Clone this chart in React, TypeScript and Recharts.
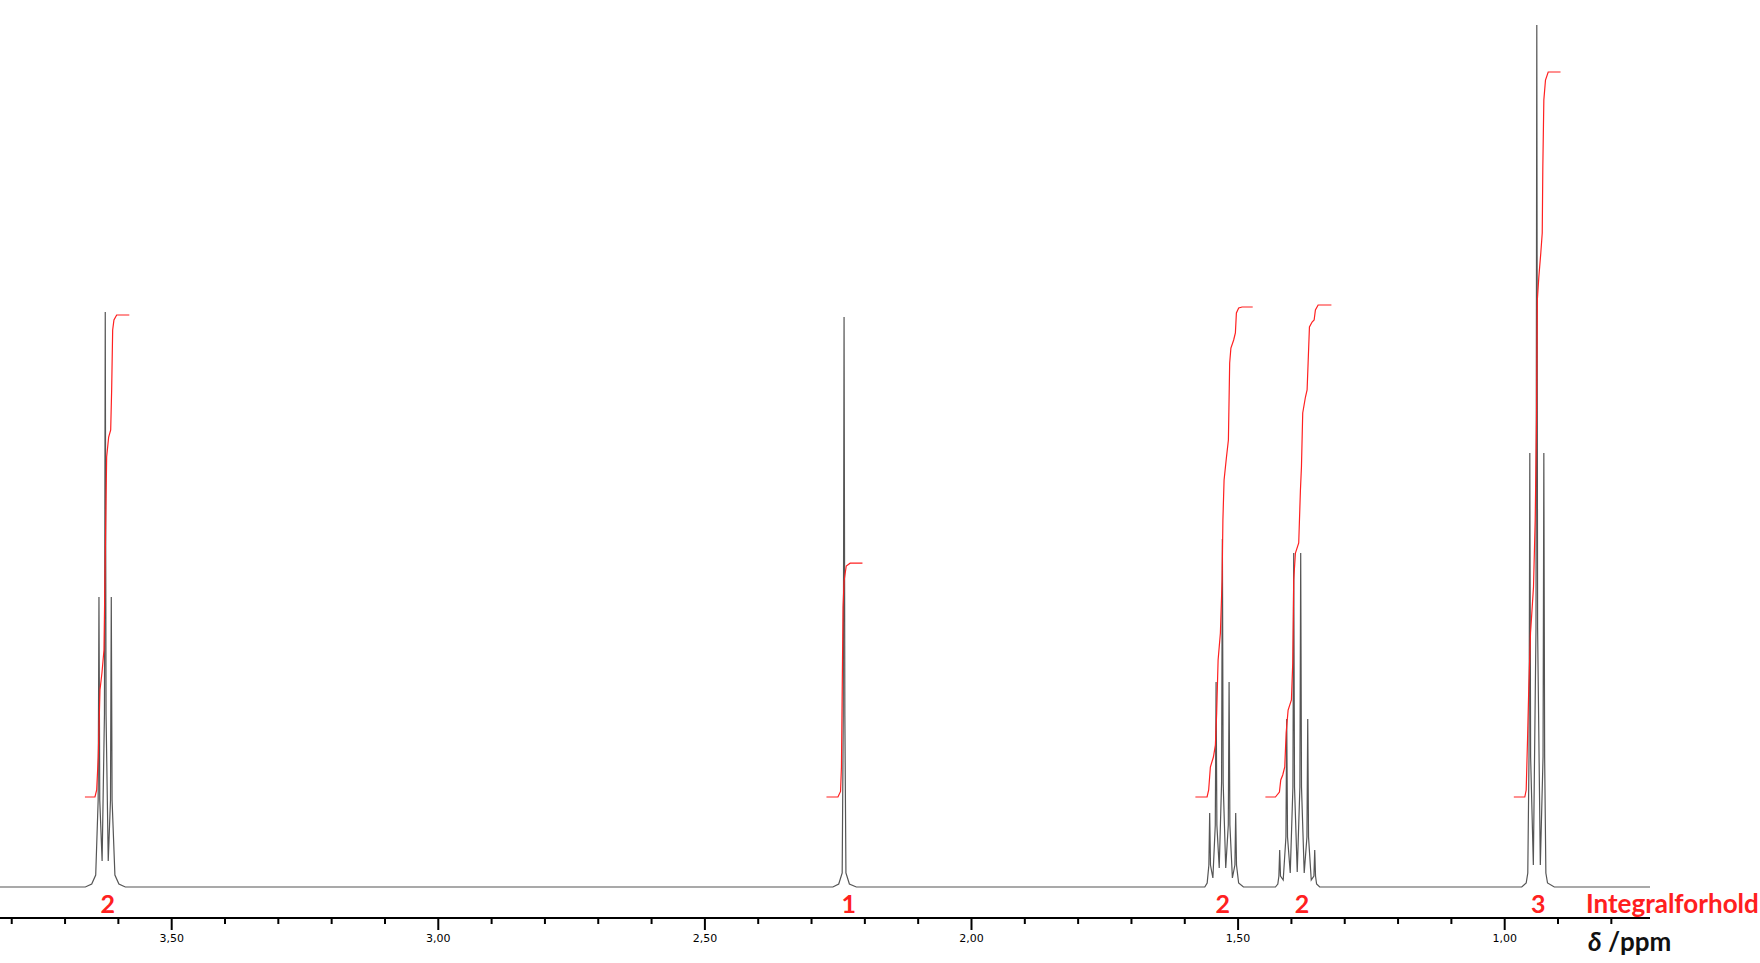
import { ComposedChart, Line, XAxis, YAxis, ReferenceDot } from 'recharts';

// 1H NMR spectrum, points as [ppm, intensity]
const spectrum: [number, number][] = [
  [3.822, 0],
  // triplet ~3.62
  [3.662, 0], [3.650, 3], [3.6425, 12], [3.6379, 87], [3.6364, 290], [3.6349, 87],
  [3.6305, 26], [3.6261, 173], [3.6246, 575], [3.6231, 173], [3.6190, 26],
  [3.6148, 87], [3.6133, 290], [3.6118, 87], [3.6065, 12], [3.599, 3], [3.587, 0],
  // singlet ~2.24
  [2.260, 0], [2.249, 3], [2.2425, 14], [2.2405, 171], [2.2390, 570], [2.2375, 171],
  [2.2355, 14], [2.229, 3], [2.216, 0],
  // quintet ~1.53
  [1.5625, 0], [1.5580, 4], [1.5548, 22], [1.5533, 74], [1.5518, 22], [1.5473, 9],
  [1.5428, 62], [1.5413, 205], [1.5398, 62], [1.5354, 19], [1.5310, 104], [1.5295, 348],
  [1.5280, 104], [1.5232, 19], [1.5184, 62], [1.5169, 205], [1.5154, 62], [1.5107, 9],
  [1.5060, 22], [1.5045, 74], [1.5030, 22], [1.4990, 4], [1.4900, 0],
  // sextet ~1.39
  [1.4300, 0], [1.4255, 3], [1.4235, 11], [1.4220, 37], [1.4205, 11], [1.4154, 7],
  [1.4103, 50], [1.4088, 168], [1.4073, 50], [1.4022, 14], [1.3972, 100], [1.3957, 334],
  [1.3942, 100], [1.3891, 15], [1.3841, 100], [1.3826, 334], [1.3811, 100], [1.3760, 14],
  [1.3709, 50], [1.3694, 168], [1.3679, 50], [1.3628, 7], [1.3578, 11], [1.3563, 37],
  [1.3548, 11], [1.3528, 3], [1.3470, 0],
  // triplet ~0.94
  [0.968, 0], [0.9597, 4], [0.9567, 14], [0.9544, 130], [0.9529, 434], [0.9514, 130],
  [0.9463, 22], [0.9413, 259], [0.9398, 862], [0.9383, 259], [0.9332, 22],
  [0.9281, 130], [0.9266, 434], [0.9251, 130], [0.9228, 14], [0.9197, 4], [0.907, 0],
  [0.7275, 0],
];

// integral curves
const integral1: [number, number][] = [
  [3.6627, 90], [3.6439, 90], [3.6407, 97], [3.6377, 130], [3.6345, 197], [3.6308, 214],
  [3.6270, 237], [3.6246, 330], [3.6220, 430], [3.6182, 450], [3.6144, 457], [3.6126, 497],
  [3.6107, 557], [3.6083, 567], [3.6032, 572], [3.5795, 572],
];
const integral2: [number, number][] = [
  [2.2720, 90], [2.2505, 90], [2.2456, 95.6], [2.2439, 120], [2.2424, 200], [2.2409, 280],
  [2.2390, 306], [2.2349, 321], [2.2276, 323.8], [2.2045, 323.8],
];
const integral3: [number, number][] = [
  [1.5801, 90], [1.5582, 90], [1.5552, 97], [1.5520, 120], [1.5463, 130], [1.5426, 142],
  [1.5402, 174], [1.5375, 227], [1.5332, 254], [1.5300, 307], [1.5285, 367], [1.5263, 407],
  [1.5220, 429], [1.5182, 447], [1.5158, 524], [1.5135, 539], [1.5083, 547], [1.5051, 554],
  [1.5032, 574], [1.4989, 579], [1.4925, 580], [1.4726, 580],
];
const integral4: [number, number][] = [
  [1.4488, 90], [1.4300, 90], [1.4225, 95], [1.4200, 107], [1.4163, 112], [1.4125, 120],
  [1.4099, 154], [1.4062, 177], [1.4000, 187], [1.3975, 224], [1.3957, 307], [1.3925, 334],
  [1.3863, 344], [1.3831, 397], [1.3812, 420], [1.3788, 474], [1.3737, 490], [1.3706, 497],
  [1.3687, 524], [1.3662, 560], [1.3612, 565], [1.3574, 567], [1.3550, 577], [1.3499, 582],
  [1.3250, 582],
];
const integral5: [number, number][] = [
  [0.9829, 90], [0.9623, 90], [0.9597, 97], [0.9572, 147], [0.9548, 200], [0.9516, 254],
  [0.9484, 280], [0.9460, 300], [0.9428, 367], [0.9403, 467], [0.9388, 587], [0.9360, 610],
  [0.9323, 634], [0.9296, 654], [0.9285, 720], [0.9266, 787], [0.9235, 807], [0.9184, 815],
  [0.8953, 815],
];

const integralLabels: [string, number][] = [
  ['2', 3.6201], ['1', 2.2302], ['2', 1.5289], ['2', 1.3801], ['3', 0.9371],
];

const ticks = [3.8, 3.7, 3.6, 3.5, 3.4, 3.3, 3.2, 3.1, 3.0, 2.9, 2.8, 2.7, 2.6, 2.5, 2.4,
  2.3, 2.2, 2.1, 2.0, 1.9, 1.8, 1.7, 1.6, 1.5, 1.4, 1.3, 1.2, 1.1, 1.0, 0.9, 0.8];

const toRows = (pts: [number, number][]) => pts.map(([ppm, v]) => ({ ppm, v }));

const RED = '#ff2020';

function Tick({ x, y, payload }: any) {
  const val: number = payload.value;
  const major = Math.abs(val * 2 - Math.round(val * 2)) < 1e-6;
  return (
    <g>
      <line x1={x} y1={y} x2={x} y2={y + (major ? 12 : 6)} stroke="#000" strokeWidth={2} />
      {major && (
        <text x={x} y={y + 24} textAnchor="middle" fontSize={11}
          fontFamily="DejaVu Sans, sans-serif" fill="#000">
          {val.toFixed(2).replace('.', ',')}
        </text>
      )}
    </g>
  );
}

export default function App() {
  const integrals = [integral1, integral2, integral3, integral4, integral5];
  return (
    <div style={{ position: 'absolute', left: 0, top: 0, width: 1760, height: 963, overflow: 'hidden', background: '#fff' }}>
      <ComposedChart width={1760} height={963} margin={{ top: 0, right: 110, left: 0, bottom: 0 }}>
        <XAxis
          dataKey="ppm" type="number" domain={[0.7275, 3.822]} reversed allowDataOverflow
          ticks={ticks} interval={0} tick={<Tick />} tickLine={false} tickSize={0} tickMargin={0}
          axisLine={{ stroke: '#000', strokeWidth: 2 }} height={45}
        />
        <YAxis dataKey="v" type="number" domain={[-31, 887]} hide allowDataOverflow />
        <Line data={toRows(spectrum)} dataKey="v" type="linear" stroke="#555" strokeWidth={1.2}
          dot={false} activeDot={false} isAnimationActive={false} />
        {integrals.map((pts, i) => (
          <Line key={i} data={toRows(pts)} dataKey="v" type="linear" stroke={RED} strokeWidth={1.2}
            dot={false} activeDot={false} isAnimationActive={false} />
        ))}
        {integralLabels.map(([t, ppm], i) => (
          <ReferenceDot key={'l' + i} x={ppm} y={-25.5} r={0} ifOverflow="visible"
            shape={(p: any) => (
              <text x={p.cx} y={p.cy} textAnchor="middle" fontSize={25} fontWeight={700}
                fontFamily="Lato, sans-serif" fill={RED}>{t}</text>
            )}
          />
        ))}
      </ComposedChart>
      <svg width={1760} height={963} style={{ position: 'absolute', left: 0, top: 0, pointerEvents: 'none' }}>
        <text x={1586} y={912.5} fontSize={26} fontWeight={700} fontFamily="Lato, sans-serif" fill={RED}>
          Integralforhold
        </text>
        <text x={1588} y={951} fontSize={26} fontWeight={700} fontFamily="Lato, sans-serif" fill="#111">
          <tspan fontStyle="italic">δ</tspan> /ppm
        </text>
      </svg>
    </div>
  );
}
